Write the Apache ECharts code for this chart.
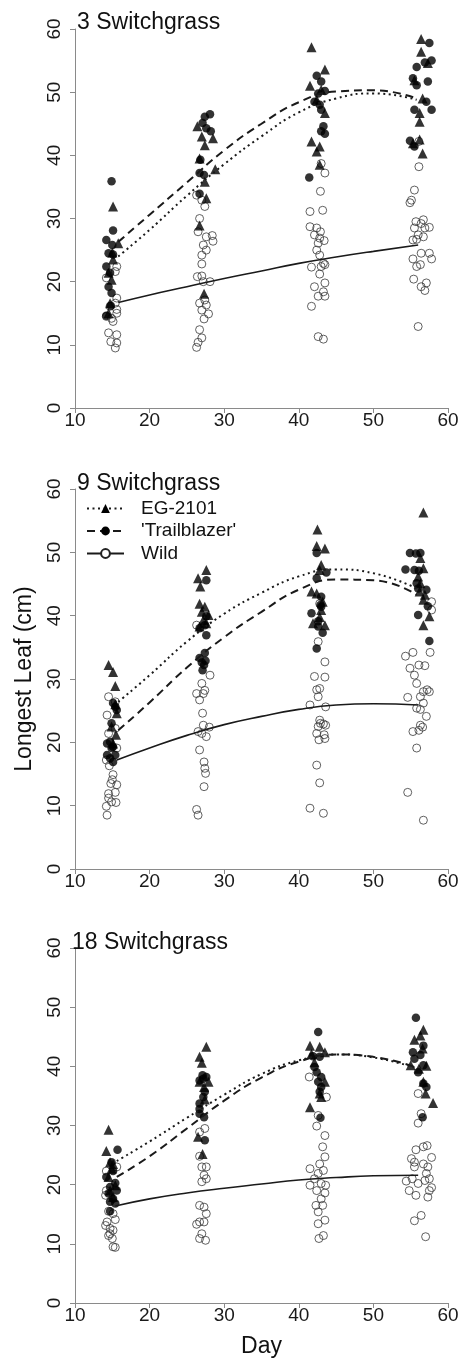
<!DOCTYPE html>
<html><head><meta charset="utf-8">
<script src="https://cdn.jsdelivr.net/npm/echarts@6/dist/echarts.min.js"></script>
<style>html,body{margin:0;padding:0;background:#fff}#c{width:463px;height:1364px}</style>
</head><body><div id="c"></div>
<script>
// ---------- labels ----------
const panelTitles = ['3 Switchgrass', '9 Switchgrass', '18 Switchgrass'];
const groupNames = ['EG-2101', "'Trailblazer'", 'Wild'];
const xTicks = [10, 20, 30, 40, 50, 60];
const yTicks = [0, 10, 20, 30, 40, 50, 60];

// ---------- panel 1 (3 Switchgrass): [day, longest leaf cm] ----------
const p1EG = [[15.1,31.9],[15.8,26.1],[15.0,24.6],[15.1,23.5],[14.5,21.4],[14.9,20.3],[14.7,16.6],[14.5,15.0],
  [26.4,44.6],[27.0,43.0],[27.4,41.6],[28.5,42.7],[26.7,39.5],[27.4,35.8],[27.6,33.2],[28.8,37.8],[26.7,28.9],[27.3,18.1],
  [41.7,57.1],[41.5,51.0],[43.5,53.6],[43.0,50.4],[42.4,48.8],[43.5,46.7],[41.7,42.2],[42.8,41.4],[42.8,38.5],[42.4,40.6],
  [56.4,58.4],[56.4,56.4],[57.3,54.6],[55.5,51.9],[56.6,49.0],[56.2,46.7],[56.2,45.3],[56.2,42.5],[56.6,40.3],[55.3,41.9]];
const p1TB = [[14.9,35.9],[15.1,28.1],[14.2,26.6],[15.0,25.8],[14.5,24.5],[15.1,24.3],[14.2,22.4],[14.7,21.4],[14.5,19.2],[14.9,18.2],[14.8,16.2],[14.2,14.6],
  [28.1,46.5],[27.4,46.1],[27.1,45.1],[27.6,44.3],[28.2,43.8],[26.8,39.3],[26.7,37.2],[27.3,36.9],[26.7,33.9],
  [42.4,52.6],[43.0,51.7],[43.5,50.2],[42.6,49.8],[42.1,48.5],[42.8,48.0],[43.0,47.2],[43.3,44.6],[43.0,43.8],[43.5,43.4],[41.4,36.5],
  [57.5,57.8],[55.8,54.0],[56.9,54.7],[57.8,55.0],[55.3,52.2],[55.8,51.1],[57.3,51.7],[55.5,47.2],[57.1,48.5],[57.8,47.2],[54.9,42.3],[55.5,41.4]];
const p1W = [[15.6,22.4],[15.4,21.6],[14.2,20.6],[15.6,17.4],[15.4,16.6],[14.7,16.1],[15.6,15.6],[15.6,15.0],[14.2,14.5],[14.9,14.2],[15.1,13.7],[14.5,11.9],[15.6,11.6],[14.8,10.5],[15.6,10.3],[15.4,9.5],
  [26.3,33.7],[27.0,32.9],[27.4,31.9],[26.7,30.0],[26.5,27.9],[27.6,27.1],[28.4,27.3],[28.5,26.4],[27.2,25.8],[27.6,25.0],[27.0,24.2],[27.0,22.8],[26.4,20.8],[27.0,20.9],[27.2,20.0],[28.1,20.0],[26.7,16.6],[27.4,17.1],[27.6,16.3],[27.0,15.5],[27.9,14.9],[27.3,14.1],[26.7,12.4],[27.0,11.1],[26.5,10.4],[26.3,9.6],
  [43.0,38.7],[43.5,37.2],[42.9,34.3],[41.5,31.1],[43.2,31.3],[41.5,28.7],[42.4,28.5],[42.9,27.9],[42.1,27.4],[42.8,26.9],[43.4,26.5],[42.6,26.1],[42.4,25.0],[42.8,24.2],[43.3,22.9],[43.5,22.7],[43.0,22.4],[41.7,22.3],[42.8,21.2],[43.5,19.8],[42.1,19.2],[43.3,18.4],[42.6,17.7],[43.5,17.7],[41.7,16.1],[42.6,11.3],[43.3,10.9],
  [56.1,42.2],[56.1,38.2],[55.5,34.5],[55.1,32.9],[54.9,32.5],[55.7,29.5],[56.7,29.8],[55.5,28.5],[56.4,29.2],[56.9,28.5],[57.5,28.6],[56.0,27.4],[56.7,27.1],[55.3,26.6],[55.8,26.7],[56.4,24.5],[55.3,23.6],[57.5,24.5],[57.8,23.6],[55.8,22.4],[56.3,22.7],[57.1,19.8],[56.4,19.2],[56.9,18.6],[55.4,20.4],[56.0,12.9]];
const p1FitEG = [[15.8,24.0],[20,28.2],[25,33.6],[30,38.6],[35,43.0],[40,46.8],[45,49.0],[50,49.8],[55.8,48.8]];
const p1FitTB = [[15.8,26.3],[20,30.6],[25,35.7],[30,40.8],[35,45.0],[40,48.4],[45,50.1],[50,50.3],[55.8,49.0]];
const p1FitW  = [[15.8,16.7],[20,17.9],[25,19.2],[30,20.5],[35,21.7],[40,22.9],[45,23.9],[50,24.8],[56,25.8]];

// ---------- panel 2 (9 Switchgrass) ----------
const p2EG = [[14.5,32.2],[15.1,31.1],[15.4,28.9],[15.4,26.0],[15.6,24.6],[14.9,22.5],[15.5,21.2],[15.1,19.8],
  [27.6,47.2],[26.5,45.9],[26.8,44.6],[26.7,41.9],[27.4,41.4],[27.0,40.6],[27.9,40.1],[27.2,39.3],[26.7,38.3],[27.6,38.8],
  [42.5,53.6],[42.4,51.0],[43.5,50.6],[43.0,48.0],[42.8,47.2],[41.7,43.8],[42.4,43.5],[41.9,38.8],[43.0,40.9],[43.5,38.5],[42.8,39.8],[43.2,42.2],
  [56.7,56.3],[56.3,49.1],[56.7,47.5],[56.3,45.1],[56.2,43.8],[56.7,42.5],[57.5,39.9],[56.7,38.5],[56.9,43.3],[56.0,46.2]];
const p2TB = [[15.4,25.6],[15.1,26.2],[15.6,25.1],[14.9,23.0],[14.7,20.1],[14.3,19.8],[15.1,19.3],[14.3,18.0],[14.7,17.5],[15.1,16.9],[15.4,18.0],[14.9,19.1],
  [27.6,45.6],[27.6,39.9],[27.4,38.5],[26.7,38.0],[27.6,36.9],[26.7,33.3],[27.4,34.1],[27.0,32.6],[27.5,32.9],[27.1,31.4],[27.3,32.2],
  [42.4,49.9],[42.4,45.9],[43.7,46.8],[43.0,43.0],[41.7,40.4],[42.9,41.7],[43.0,41.4],[42.6,39.1],[43.2,37.3],[42.4,34.8],[42.6,38.3],
  [54.3,47.3],[54.9,49.9],[55.7,49.8],[56.3,49.9],[55.5,47.2],[56.1,47.1],[55.8,45.1],[56.0,44.3],[57.1,44.1],[57.3,41.5],[56.0,40.1],[57.5,36.0]];
const p2W = [[14.5,27.2],[15.4,26.4],[14.3,24.3],[15.4,22.2],[14.5,21.4],[15.6,19.1],[14.2,17.2],[14.6,16.3],[15.1,14.9],[15.0,14.1],[14.8,13.5],[15.6,13.3],[15.4,12.1],[14.5,11.9],[14.5,11.2],[14.9,10.6],[15.5,10.5],[14.2,9.9],[14.3,8.5],
  [26.3,38.5],[28.1,30.6],[27.0,29.3],[26.3,27.7],[27.2,27.7],[26.7,26.7],[27.4,28.2],[27.1,24.6],[26.5,21.7],[27.2,22.7],[27.6,20.9],[27.0,21.4],[26.7,18.8],[27.3,16.9],[27.4,15.9],[27.5,15.1],[27.3,13.0],[26.3,9.4],[26.5,8.5],[28.0,22.4],
  [42.8,41.9],[42.6,35.9],[42.1,30.4],[43.5,30.3],[43.5,32.7],[42.4,28.3],[42.8,28.5],[42.6,27.2],[41.5,25.9],[43.6,25.6],[42.8,23.5],[42.9,23.0],[43.3,22.9],[43.6,22.7],[42.4,21.4],[42.7,20.4],[43.4,21.2],[43.5,20.6],[42.4,16.4],[42.8,13.6],[41.5,9.6],[43.3,8.8],[42.6,22.5],
  [57.8,42.2],[57.8,40.9],[54.3,33.6],[55.3,34.2],[54.9,31.7],[56.1,32.2],[56.9,32.1],[55.5,30.6],[55.8,29.3],[57.6,34.2],[57.2,28.3],[56.7,28.0],[57.5,28.0],[54.6,27.1],[56.3,27.2],[56.7,26.2],[55.8,25.4],[56.3,25.2],[57.1,24.1],[55.3,21.7],[56.1,21.9],[56.3,22.7],[56.6,22.4],[55.8,19.1],[54.6,12.1],[56.7,7.7]];
const p2FitEG = [[15.8,26.4],[20,30.6],[25,35.9],[30,40.3],[35,43.6],[40,46.2],[45,47.3],[50,46.7],[55.8,44.3]];
const p2FitTB = [[15.8,21.9],[20,26.3],[25,31.8],[30,36.6],[35,40.6],[40,44.1],[45,45.7],[50,45.6],[55.8,43.3]];
const p2FitW  = [[15.6,17.2],[20,19.1],[25,21.1],[30,22.8],[35,24.1],[40,25.2],[45,25.9],[50,26.1],[56,25.9]];

// ---------- panel 3 (18 Switchgrass) ----------
const p3EG = [[14.5,29.3],[14.2,25.7],[14.7,23.8],[15.1,23.5],[14.9,22.7],[14.5,21.3],[15.4,19.9],[15.1,17.9],[14.7,19.0],
  [27.6,43.3],[26.7,41.6],[27.0,40.6],[26.7,37.4],[27.3,36.5],[27.4,34.4],[26.5,28.1],[27.1,25.2],[27.9,37.4],
  [41.5,43.5],[41.7,42.1],[42.8,43.3],[43.5,42.4],[42.1,40.7],[41.5,33.1],[42.8,35.4],[43.0,34.8],[43.5,37.4],
  [56.7,46.2],[56.3,45.2],[55.5,44.5],[56.6,43.0],[57.1,40.1],[56.1,39.6],[55.0,40.2],[56.7,37.4],[57.0,35.4],[58.0,33.8]];
const p3TB = [[15.7,25.9],[14.9,23.8],[15.1,22.3],[14.2,21.3],[15.4,20.3],[14.7,19.6],[14.5,18.5],[15.1,17.6],[15.6,19.0],[14.7,17.1],[14.7,15.5],[15.4,16.8],
  [26.7,37.6],[27.6,38.2],[27.1,38.5],[26.7,33.7],[27.2,34.8],[27.4,35.7],[26.7,32.8],[27.3,31.4],[27.4,27.5],[26.7,32.0],[27.2,37.9],
  [42.6,45.8],[41.9,41.7],[42.8,41.6],[42.1,39.9],[42.4,39.0],[43.0,38.2],[42.6,37.4],[43.0,36.5],[42.8,35.7],[42.9,31.3],
  [55.7,48.2],[56.7,43.5],[55.3,42.4],[56.3,41.9],[55.5,41.3],[56.7,40.2],[56.0,39.0],[56.7,37.1],[57.1,36.5],[56.6,31.4]];
const p3W = [[14.2,22.3],[15.6,23.0],[14.2,19.0],[14.1,18.2],[14.5,15.5],[15.1,15.1],[14.3,13.7],[14.1,13.1],[15.4,14.1],[14.7,12.6],[15.1,12.3],[14.5,11.4],[15.0,10.9],[15.1,9.5],[15.4,9.4],[14.7,11.7],
  [26.7,28.9],[27.4,29.5],[26.7,24.8],[27.0,23.0],[27.6,23.0],[27.3,21.6],[27.6,21.0],[27.0,20.5],[26.7,16.5],[27.3,16.2],[27.6,15.1],[26.7,13.7],[27.3,13.7],[27.0,11.7],[26.7,10.9],[27.5,10.6],[26.3,13.3],
  [41.4,38.2],[43.7,34.8],[42.6,31.7],[42.4,29.9],[43.5,28.3],[43.2,26.4],[43.5,24.7],[42.8,23.5],[41.5,22.7],[43.3,22.4],[42.6,21.9],[42.1,21.0],[43.0,20.2],[43.6,19.9],[41.5,19.9],[42.4,19.0],[43.5,18.6],[43.0,17.6],[42.3,16.5],[43.2,16.5],[42.6,15.4],[43.5,14.0],[42.6,13.4],[43.3,11.4],[42.7,10.9],
  [56.0,35.4],[56.4,32.0],[56.0,30.4],[57.2,26.6],[56.7,26.4],[55.7,25.9],[57.8,24.6],[55.1,24.4],[55.5,23.8],[56.7,23.5],[55.5,23.0],[57.3,23.0],[54.4,20.6],[56.0,20.2],[56.9,20.7],[57.5,21.0],[57.1,21.9],[55.2,21.0],[57.8,19.5],[57.5,19.0],[54.8,19.0],[57.3,17.9],[55.7,18.2],[56.4,14.8],[55.5,13.9],[57.0,11.2]];
const p3FitEG = [[15.6,24.0],[20,27.3],[25,31.3],[30,35.2],[35,38.7],[40,41.0],[45,42.0],[50,41.5],[56,39.6]];
const p3FitTB = [[15.6,21.3],[20,24.8],[25,29.5],[30,34.2],[35,38.1],[40,40.8],[45,42.0],[50,41.6],[56,39.7]];
const p3FitW  = [[15.4,16.4],[20,17.6],[25,18.6],[30,19.4],[35,20.1],[40,20.8],[45,21.2],[50,21.5],[56,21.6]];

// ---------- build ----------
const FONT = "'Liberation Sans', Arial, sans-serif";
const panels = [
  {eg: p1EG, tb: p1TB, w: p1W, fEG: p1FitEG, fTB: p1FitTB, fW: p1FitW},
  {eg: p2EG, tb: p2TB, w: p2W, fEG: p2FitEG, fTB: p2FitTB, fW: p2FitW},
  {eg: p3EG, tb: p3TB, w: p3W, fEG: p3FitEG, fTB: p3FitTB, fW: p3FitW}
];
const grids = [
  {left: 75, top: 29, width: 373, height: 379},
  {left: 75, top: 489, width: 373, height: 380},
  {left: 75, top: 948, width: 373, height: 355}
];
const axisGray = '#8a8a8a';
const lineCol = '#1a1a1a';

const xAxes = grids.map((g, i) => ({
  type: 'value', gridIndex: i, min: xTicks[0], max: xTicks[xTicks.length - 1], interval: 10,
  splitLine: {show: false},
  axisLine: {show: true, lineStyle: {color: axisGray, width: 1}},
  axisTick: {show: true, length: 5, lineStyle: {color: axisGray}},
  axisLabel: {fontSize: 19, color: '#1a1a1a', fontFamily: FONT, margin: 3},
  name: i === 2 ? 'Day' : '', nameLocation: 'middle', nameGap: 32,
  nameTextStyle: {fontSize: 23, color: '#111', fontFamily: FONT}
}));
const yAxes = grids.map((g, i) => ({
  type: 'value', gridIndex: i, min: yTicks[0], max: yTicks[yTicks.length - 1], interval: 10,
  splitLine: {show: false},
  axisLine: {show: true, lineStyle: {color: axisGray, width: 1}},
  axisTick: {show: true, length: 5, lineStyle: {color: axisGray}},
  axisLabel: {fontSize: 19, color: '#1a1a1a', fontFamily: FONT, rotate: 90, margin: 11},
  name: i === 1 ? 'Longest Leaf (cm)' : '', nameLocation: 'middle', nameGap: 39, nameRotate: 90,
  nameTextStyle: {fontSize: 23, color: '#111', fontFamily: FONT}
}));

const series = [];
panels.forEach((p, i) => {
  const suffix = i === 1 ? '' : ' ' + i;
  series.push({type: 'scatter', xAxisIndex: i, yAxisIndex: i, data: p.w, symbol: 'circle', symbolSize: 8, z: 2,
    itemStyle: {color: 'rgba(255,255,255,0)', borderColor: '#3a3a3a', borderWidth: 1}, silent: true});
  series.push({type: 'scatter', xAxisIndex: i, yAxisIndex: i, data: p.tb, symbol: 'circle', symbolSize: 8.5, z: 3,
    itemStyle: {color: '#000'}, silent: true});
  series.push({type: 'scatter', xAxisIndex: i, yAxisIndex: i, data: p.eg, symbol: 'triangle', symbolSize: 10, z: 4,
    itemStyle: {color: '#000'}, silent: true});
  series.push({type: 'line', name: groupNames[0] + suffix, xAxisIndex: i, yAxisIndex: i, data: p.fEG, smooth: true,
    showSymbol: false, symbol: 'triangle', z: 5, itemStyle: {color: '#000'},
    lineStyle: {color: lineCol, width: 2, type: [2, 3.5]}});
  series.push({type: 'line', name: groupNames[1] + suffix, xAxisIndex: i, yAxisIndex: i, data: p.fTB, smooth: true,
    showSymbol: false, symbol: 'circle', z: 5, itemStyle: {color: '#000'},
    lineStyle: {color: lineCol, width: 2, type: [8, 5]}});
  series.push({type: 'line', name: groupNames[2] + suffix, xAxisIndex: i, yAxisIndex: i, data: p.fW, smooth: true,
    showSymbol: false, symbol: 'emptyCircle', z: 5, itemStyle: {color: '#222'},
    lineStyle: {color: lineCol, width: 1.6, type: 'solid'}});
});

const chart = echarts.init(document.getElementById('c'), null, {renderer: 'canvas'});
chart.setOption({
  animation: false,
  backgroundColor: '#fff',
  textStyle: {fontFamily: FONT},
  title: [
    {text: panelTitles[0], left: 77, top: 11},
    {text: panelTitles[1], left: 77, top: 472},
    {text: panelTitles[2], left: 72, top: 931}
  ].map(t => Object.assign(t, {padding: 0, textStyle: {fontSize: 23, fontWeight: 'normal', color: '#111', fontFamily: FONT}})),
  legend: {
    orient: 'vertical', left: 86, top: 499, padding: 0, itemWidth: 37, itemHeight: 11, itemGap: 3.5, selectedMode: false,
    textStyle: {fontSize: 19, color: '#111', fontFamily: FONT, padding: [0, 0, 0, 12]},
    data: [
      {name: groupNames[0]},
      {name: groupNames[1]},
      {name: groupNames[2]}
    ]
  },
  grid: grids,
  xAxis: xAxes,
  yAxis: yAxes,
  series: series
});
</script>
</body></html>
